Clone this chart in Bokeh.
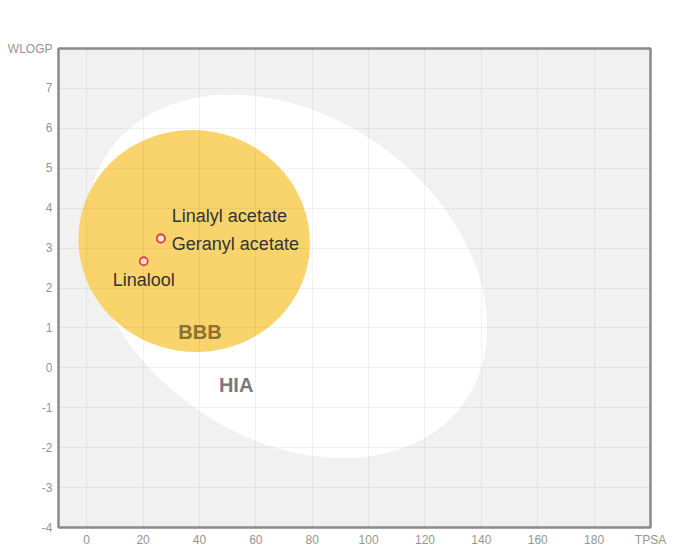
import numpy as np
from bokeh.plotting import figure
from bokeh.models import Label, FixedTicker, Range1d, ColumnDataSource
from bokeh.embed import file_html
from bokeh.resources import INLINE
from bokeh.core.properties import value

# ---- data ----
compounds = ["Linalool", "Linalyl acetate", "Geranyl acetate"]
tpsa = [20.23, 26.30, 26.30]
wlogp = [2.67, 3.24, 3.24]

# BOILED-Egg regions (centre, full axes, rotation in degrees, data space)
hia_center = [71.051, 2.292]
hia_axes = [142.081, 8.740]
hia_angle = -1.031325
bbb_center = [38.117, 3.177]
bbb_axes = [82.061, 5.557]
bbb_angle = -0.066696

x_ticks = [0, 20, 40, 60, 80, 100, 120, 140, 160, 180, 200]
y_ticks = [-4, -3, -2, -1, 0, 1, 2, 3, 4, 5, 6, 7, 8]
x_title = "TPSA"
y_title = "WLOGP"

FONT = "Liberation Sans"


def ellipse_pts(center, axes, angle_deg, n=360):
    t = np.linspace(0, 2 * np.pi, n)
    a, b = axes[0] / 2.0, axes[1] / 2.0
    th = np.deg2rad(angle_deg)
    ex, ey = a * np.cos(t), b * np.sin(t)
    xs = center[0] + ex * np.cos(th) - ey * np.sin(th)
    ys = center[1] + ex * np.sin(th) + ey * np.cos(th)
    return xs, ys


p = figure(width=677, height=552, x_range=Range1d(-10, 200), y_range=Range1d(-4, 8),
           output_backend="svg", toolbar_location=None,
           min_border_left=58, min_border_top=48, min_border_right=27, min_border_bottom=25)
p.background_fill_color = "#f1f1f1"
p.border_fill_color = "white"
p.outline_line_color = "#8a8a8a"
p.outline_line_width = 2.5

for ax in (p.xaxis, p.yaxis):
    ax.axis_line_color = None
    ax.major_tick_line_color = None
    ax.minor_tick_line_color = None
    ax.major_tick_out = 0
    ax.major_tick_in = 0
    ax.minor_tick_out = 0
    ax.minor_tick_in = 0
    ax.major_label_text_font = FONT
    ax.major_label_text_font_size = "12px"
    ax.major_label_text_color = "#959595"
p.xaxis.ticker = FixedTicker(ticks=x_ticks)
p.yaxis.ticker = FixedTicker(ticks=y_ticks)
p.xaxis.major_label_overrides = {x_ticks[-1]: x_title}
y_over = {t: str(t) for t in y_ticks}
y_over[y_ticks[-1]] = y_title
p.yaxis.major_label_overrides = y_over
p.xaxis.major_label_standoff = 5
p.yaxis.major_label_standoff = 6

for g in (p.xgrid, p.ygrid):
    g.grid_line_color = "#000000"
    g.grid_line_alpha = 0.05
    g.level = "guide"

hx, hy = ellipse_pts(hia_center, hia_axes, hia_angle)
bx, by = ellipse_pts(bbb_center, bbb_axes, bbb_angle)
p.patch(hx, hy, fill_color="#ffffff", line_color=None)
p.patch(bx, by, fill_color="#f9d36c", line_color=None)

src = ColumnDataSource(dict(
    x=tpsa, y=wlogp, name=compounds,
    xo=[0, 11, 11], yo=[19, -23, 5], align=["center", "left", "left"],
))
p.scatter("x", "y", source=src, size=8, marker="circle",
          fill_color="#fbe3d8", line_color="#e0483e", line_width=1.8)
p.text("x", "y", text="name", source=src, x_offset="xo", y_offset="yo",
       text_align="align", text_baseline="middle",
       text_font=value(FONT), text_font_size="18px", text_color="#333333")

p.add_layout(Label(x=40.2, y=0.91, text="BBB", text_align="center", text_baseline="middle",
                   text_font=FONT, text_font_size="20px", text_font_style="bold",
                   text_color="#8b7232"))
p.add_layout(Label(x=53.0, y=-0.42, text="HIA", text_align="center", text_baseline="middle",
                   text_font=FONT, text_font_size="20px", text_font_style="bold",
                   text_color="#7a7a7a"))

open("out.html", "w").write(file_html(p, INLINE))
